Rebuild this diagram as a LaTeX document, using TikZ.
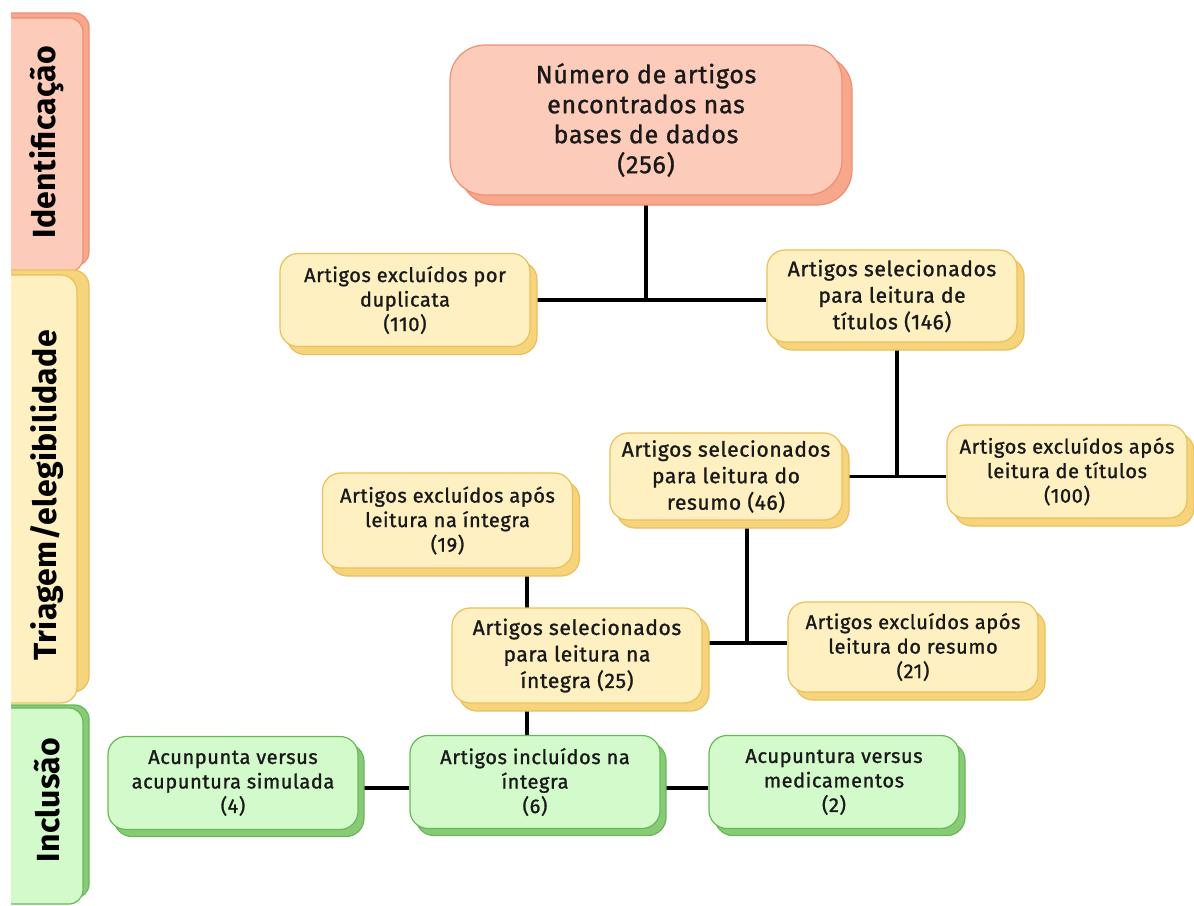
\documentclass[tikz,border=0pt]{standalone}
\usepackage{fontspec}
\setmainfont{Fira Sans}[FakeBold=1.2, LetterSpace=3]
\newfontfamily\bandfont{Fira Sans}[LetterSpace=1]
\usetikzlibrary{shadows,backgrounds}
\definecolor{pinkfill}{HTML}{FDCBBA}
\definecolor{pinkline}{HTML}{EE8F72}
\definecolor{pinkback}{HTML}{F7A88C}
\definecolor{yelfill}{HTML}{FEF0C0}
\definecolor{yelline}{HTML}{EBC05C}
\definecolor{yelback}{HTML}{F6D47C}
\definecolor{grnfill}{HTML}{D3FACB}
\definecolor{grnline}{HTML}{69B857}
\definecolor{grnback}{HTML}{88CB77}
\tikzset{
    box/.style={rectangle, rounded corners=18pt, line width=1.2pt, align=center, inner sep=4pt,
        minimum width=250pt, minimum height=93pt, text=black!90},
    pinkbox/.style={box, fill=pinkfill, draw=pinkline,
        copy shadow={shadow xshift=10pt, shadow yshift=-10pt, fill=pinkback, draw=pinkline}},
    yelbox/.style={box, fill=yelfill, draw=yelline,
        copy shadow={shadow xshift=7pt, shadow yshift=-8pt, fill=yelback, draw=yelline}},
    grnbox/.style={box, fill=grnfill, draw=grnline,
        copy shadow={shadow xshift=6pt, shadow yshift=-7pt, fill=grnback, draw=grnline}},
    bigtext/.style={font=\fontsize{25}{30}\selectfont},
    midtext/.style={font=\fontsize{21}{26.5}\selectfont},
    smalltext/.style={font=\fontsize{20}{24.5}\selectfont},
    bandtext/.style={rotate=90, text=black, font=\fontsize{32}{36}\bandfont\bfseries},
    link/.style={line width=3.2pt, black}
}

\begin{document}
\begin{tikzpicture}[x=1pt, y=-1pt]
\useasboundingbox (0,0) rectangle (1194,905);

% bands on the left
\begin{scope}
\clip (11,0) rectangle (120,905);
\filldraw[fill=pinkback, draw=pinkline, line width=1.2pt, rounded corners=14pt] (-30,13) rectangle (89,266);
\filldraw[fill=pinkfill, draw=pinkline, line width=1.2pt, rounded corners=14pt] (-30,18) rectangle (83,272);
\filldraw[fill=yelback, draw=yelline, line width=1.2pt, rounded corners=16pt] (-30,270) rectangle (89,692);
\filldraw[fill=yelfill, draw=yelline, line width=1.2pt, rounded corners=16pt] (-30,275) rectangle (77,703);
\filldraw[fill=grnback, draw=grnline, line width=1.2pt, rounded corners=14pt] (-30,705) rectangle (89,898);
\filldraw[fill=grnfill, draw=grnline, line width=1.2pt, rounded corners=14pt] (-30,708) rectangle (83,904);
\end{scope}
\node[bandtext] (lIdent) at (47,142) {Identificação};
\node[bandtext] (lTriag) at (47,495) {Triagem/elegibilidade};
\node[bandtext] (lIncl) at (47,800) {Inclusão};

\node[pinkbox, bigtext, minimum width=392pt, minimum height=150pt, rounded corners=35pt] (total) at (646,120)
    {Número de artigos\\encontrados nas\\bases de dados\\(256)};
\node[yelbox, smalltext] (dup) at (405,300) {Artigos excluídos por\\duplicata\\(110)};
\node[yelbox, midtext, minimum height=92pt] (tit) at (892,296) {Artigos selecionados\\para leitura de\\títulos (146)};
\node[yelbox, midtext, minimum width=232pt, minimum height=87pt] (res) at (726,476.5)
    {Artigos selecionados\\para leitura do\\resumo (46)};
\node[yelbox, smalltext, minimum width=240pt] (extit) at (1067,471.5) {Artigos excluídos após\\leitura de títulos\\(100)};
\node[yelbox, smalltext, minimum height=95pt] (exint) at (447.5,520.5) {Artigos excluídos após\\leitura na íntegra\\(19)};
\node[yelbox, midtext, minimum height=95pt] (int) at (577,655.5) {Artigos selecionados\\para leitura na\\íntegra (25)};
\node[yelbox, smalltext, minimum height=90pt] (exres) at (913,647) {Artigos excluídos após\\leitura do resumo\\(21)};
\node[grnbox, smalltext] (sim) at (233,783) {Acunpunta versus\\acupuntura simulada\\(4)};
\node[grnbox, smalltext] (incl) at (535,782) {Artigos incluídos na\\íntegra\\(6)};
\node[grnbox, smalltext] (med) at (834,782) {Acupuntura versus\\medicamentos\\(2)};

\begin{scope}[on background layer]
\fill[white] (0,0) rectangle (1194,905);
\path ([xshift=5pt]tit.south) coordinate (ts)
      ([xshift=21pt]res.south) coordinate (rs)
      ([yshift=12.5pt]int.east) coordinate (ie)
      ([xshift=-8pt]incl.north) coordinate (ic)
      ([yshift=-6pt]incl.west) coordinate (iw);
\draw[link] (total.south) -- (total.south |- dup.east);
\draw[link] (dup.east) -- (dup.east -| tit.west);
\draw[link] (ts) -- (ts |- res.east);
\draw[link] (res.east) -- (res.east -| extit.west);
\draw[link] (rs) -- (rs |- ie);
\draw[link] (ie) -- (ie -| exres.west);
\draw[link] (ic) -- (ic |- exint.south);
\draw[link] (iw) -- (iw -| sim.east);
\draw[link] (iw -| incl.east) -- (iw -| med.west);
\end{scope}
\end{tikzpicture}
\end{document}
